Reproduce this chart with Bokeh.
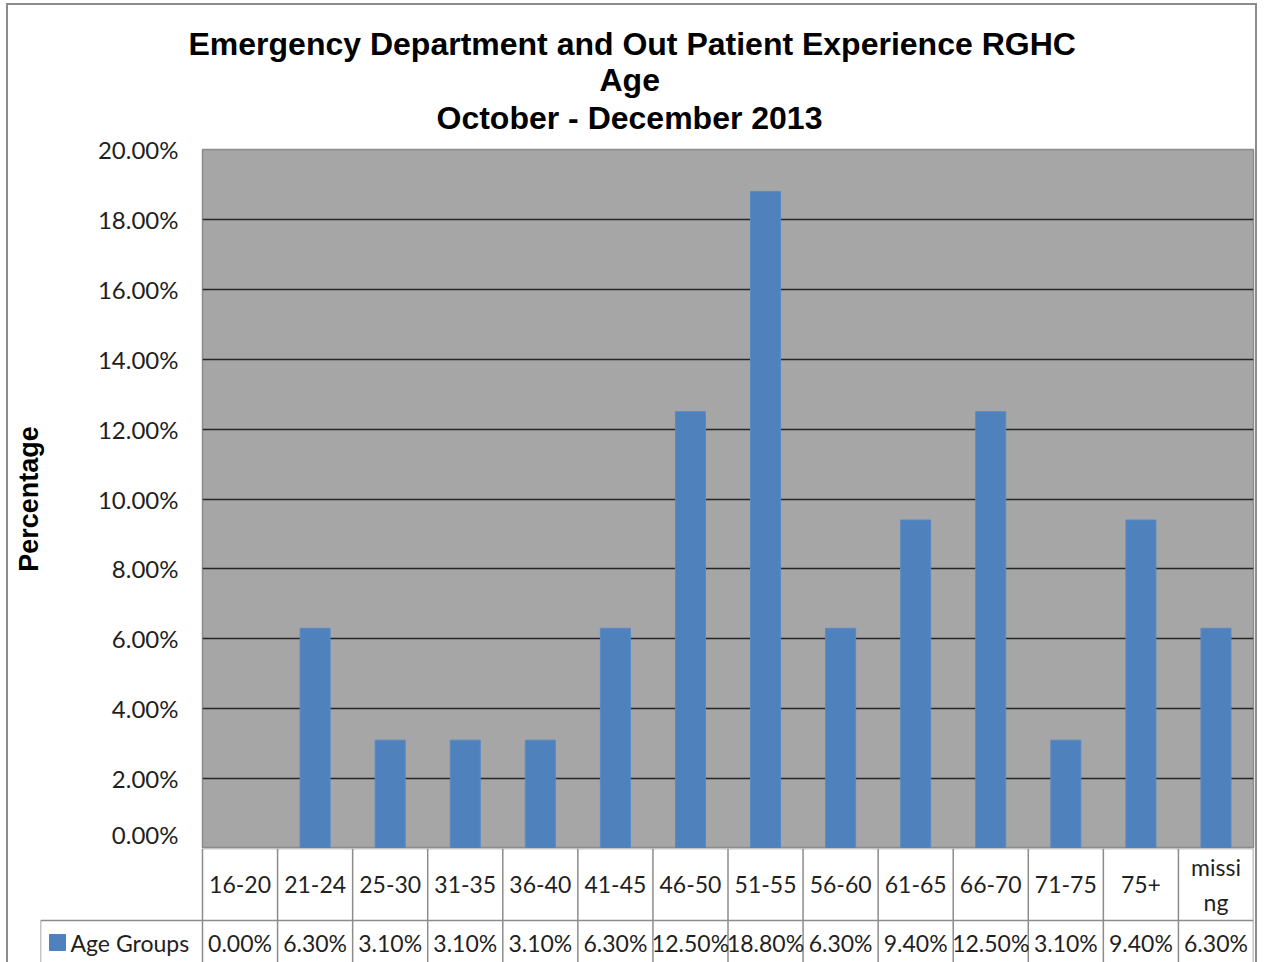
from bokeh.plotting import figure
from bokeh.models import Range1d, FactorRange, FixedTicker, PrintfTickFormatter, Title
from bokeh.layouts import column, row
from bokeh.embed import file_html
from bokeh.resources import INLINE
from bokeh.core.properties import value

# ---------------- data ----------------
categories = ["16-20", "21-24", "25-30", "31-35", "36-40", "41-45", "46-50",
              "51-55", "56-60", "61-65", "66-70", "71-75", "75+", "missing"]
table_labels = ["16-20", "21-24", "25-30", "31-35", "36-40", "41-45", "46-50",
                "51-55", "56-60", "61-65", "66-70", "71-75", "75+", "missi\nng"]
values = [0.0, 6.3, 3.1, 3.1, 3.1, 6.3, 12.5, 18.8, 6.3, 9.4, 12.5, 3.1, 9.4, 6.3]
value_labels = ["%.2f%%" % v for v in values]
y_ticks = [0, 2, 4, 6, 8, 10, 12, 14, 16, 18, 20]
title_lines = ["Emergency Department and Out Patient Experience RGHC",
               "Age",
               "October - December 2013"]
series_name = "Age Groups"
y_label = "Percentage"

# ---------------- layout constants (page px) ----------------
OX, OY = 8, 5            # content origin inside the outer border
W = 1247
FRAME_L, FRAME_R, FRAME_T, FRAME_B = 202, 1253, 149, 848
TABLE_L = 40
ROW_SPLIT = 920
PAGE_BOTTOM = 962
TITLE_LEFT = [188, 599, 436]
TITLE_STANDOFF = [-1, -4, 4]
TITLE_GAP = 7

BAR = "#4F81BD"
PLOT_BG = "#A6A6A6"
GRID = "#262626"
CELL = "#8c8c8c"
TXT = "#1f1f1f"
CAL = "Lato"
ARIAL = "Liberation Sans"

# ---------------- main chart ----------------
p = figure(width=W, height=FRAME_B - OY,
           x_range=FactorRange(*categories), y_range=Range1d(0, 20),
           output_backend="svg", toolbar_location=None,
           min_border_left=FRAME_L - OX, min_border_right=OX + W - FRAME_R,
           min_border_top=FRAME_T - OY, min_border_bottom=0)


def style_title(tt, standoff, left):
    tt.text_font = ARIAL
    tt.text_font_size = "32px"
    tt.text_font_style = "bold"
    tt.text_color = "#000000"
    tt.align = "left"
    tt.vertical_align = "top"
    tt.offset = left - FRAME_L
    tt.standoff = standoff


# p.title is outermost; added titles stack outward from the frame
p.title.text = title_lines[0]
style_title(p.title, TITLE_STANDOFF[0], TITLE_LEFT[0])
gap = Title(text=" ", text_font_size="1px", text_color="white", standoff=TITLE_GAP)
p.add_layout(gap, "above")
t3 = Title(text=title_lines[2]); style_title(t3, TITLE_STANDOFF[2], TITLE_LEFT[2])
p.add_layout(t3, "above")
t2 = Title(text=title_lines[1]); style_title(t2, TITLE_STANDOFF[1], TITLE_LEFT[1])
p.add_layout(t2, "above")

p.background_fill_color = PLOT_BG
p.border_fill_color = "white"
p.outline_line_color = CELL
p.outline_line_width = 1.5

p.xaxis.visible = False
p.xgrid.visible = False
p.ygrid.ticker = FixedTicker(ticks=y_ticks[1:])
p.ygrid.grid_line_color = GRID
p.ygrid.grid_line_width = 1.6

ax = p.yaxis[0]
ax.ticker = FixedTicker(ticks=y_ticks)
ax.formatter = PrintfTickFormatter(format="%.2f%%")
ax.axis_line_color = None
ax.major_tick_line_color = None
ax.minor_tick_line_color = None
ax.major_tick_out = 0
ax.major_tick_in = 0
ax.major_label_standoff = 24
ax.major_label_text_font = CAL
ax.major_label_text_font_size = "24px"
ax.major_label_text_color = TXT
ax.axis_label = y_label
ax.axis_label_text_font = ARIAL
ax.axis_label_text_font_style = "bold"
ax.axis_label_text_font_size = "27px"
ax.axis_label_text_color = "#000000"
ax.axis_label_standoff = 51

p.vbar(x=categories, top=values, width=0.4, fill_color=BAR, line_color="#5a8ac4", line_width=1)

# ---------------- data table ----------------
n = len(categories)
cat_px = (FRAME_R - FRAME_L) / n
L = (FRAME_L - TABLE_L) / cat_px
H_T = PAGE_BOTTOM - FRAME_B
row1 = ROW_SPLIT - FRAME_B

t = figure(width=W, height=H_T,
           x_range=Range1d(-0.5 - L, n - 0.5), y_range=Range1d(-H_T, 0),
           output_backend="svg", toolbar_location=None,
           x_axis_location=None, y_axis_location=None,
           min_border_left=TABLE_L - OX, min_border_right=OX + W - FRAME_R,
           min_border_top=0, min_border_bottom=0)
t.grid.visible = False
t.outline_line_color = None
t.background_fill_color = "white"
t.border_fill_color = "white"

edges = [i - 0.5 for i in range(n + 1)]
t.segment(x0=edges, y0=[-row1] * len(edges), x1=edges, y1=[0] * len(edges),
          line_color=CELL, line_width=1.5)
vx = [-0.5 - L] + edges
t.segment(x0=vx, y0=[-H_T] * len(vx), x1=vx, y1=[-row1] * len(vx),
          line_color=CELL, line_width=1.5)
t.segment(x0=[-0.5 - L, -0.5], y0=[-row1, 0], x1=[n - 0.5, n - 0.5], y1=[-row1, 0],
          line_color=CELL, line_width=1.5)

t.text(x=list(range(n)), y=[-row1 / 2] * n, text=table_labels,
       text_align="center", text_baseline="middle",
       text_font=value(CAL), text_font_size="23px", text_color=TXT,
       text_line_height=1.25)
vy = -(row1 + 22)
t.text(x=list(range(n)), y=[vy] * n, text=value_labels,
       text_align="center", text_baseline="middle",
       text_font=value(CAL), text_font_size="23px", text_color=TXT)
t.scatter(x=[-0.5 - L + 17 / cat_px], y=[vy], marker="square", size=16,
          fill_color=BAR, line_color=BAR)
t.text(x=[-0.5 - L + 30 / cat_px], y=[vy], text=[series_name],
       text_align="left", text_baseline="middle",
       text_font=value(CAL), text_font_size="23px", text_color=TXT)

layout = column(p, row(t), styles={"border": "2px solid #8c8c8c",
                                   "margin-left": "6px", "margin-top": "3px"})
open("out.html", "w").write(file_html(layout, INLINE))
